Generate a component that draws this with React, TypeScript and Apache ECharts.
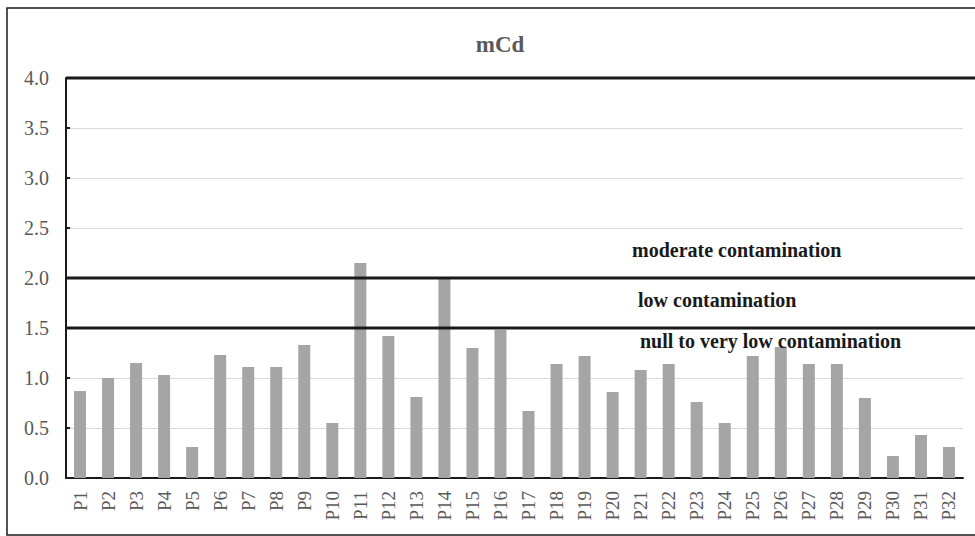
import React, { useEffect, useRef } from "react";
import * as echarts from "echarts";

const categories = [
  "P1", "P2", "P3", "P4", "P5", "P6", "P7", "P8", "P9", "P10",
  "P11", "P12", "P13", "P14", "P15", "P16", "P17", "P18", "P19", "P20",
  "P21", "P22", "P23", "P24", "P25", "P26", "P27", "P28", "P29", "P30",
  "P31", "P32",
];

const mCdValues = [
  0.87, 1.0, 1.15, 1.03, 0.31, 1.23, 1.11, 1.11, 1.33, 0.55,
  2.15, 1.42, 0.81, 2.0, 1.3, 1.48, 0.67, 1.14, 1.22, 0.86,
  1.08, 1.14, 0.76, 0.55, 1.22, 1.31, 1.14, 1.14, 0.8, 0.22,
  0.43, 0.31,
];

// Contamination class boundaries drawn as heavy rules
const thresholds = [4.0, 2.0, 1.5];

// Class names and the value at which each is written
const classLabels = ["moderate contamination", "low contamination", "null to very low contamination"];
const classLabelValues = [2.28, 1.78, 1.37];
const classLabelX = [632, 638, 640];

const SERIF = "'Liberation Serif', 'Times New Roman', serif";

export default function App() {
  const ref = useRef<HTMLDivElement>(null);

  useEffect(() => {
    if (!ref.current) return;
    const chart = echarts.init(ref.current, null, { renderer: "svg" });
    chart.setOption({
      animation: false,
      backgroundColor: "#ffffff",
      title: {
        text: "mCd",
        left: 495,
        textAlign: "center",
        top: 28,
        textStyle: { fontFamily: SERIF, fontSize: 23, fontWeight: "bold", color: "#595959" },
      },
      grid: { left: 66, top: 78, right: 12, bottom: 58 },
      xAxis: {
        type: "category",
        data: categories,
        boundaryGap: true,
        axisLine: { lineStyle: { color: "#1a1a1a", width: 2 } },
        axisTick: { inside: true, length: 4, interval: 0, lineStyle: { color: "#1a1a1a", width: 2 } },
        axisLabel: {
          interval: 0,
          rotate: 90,
          margin: 13,
          fontFamily: SERIF,
          fontSize: 19,
          color: "#595959",
        },
      },
      yAxis: {
        type: "value",
        min: 0,
        max: 4,
        interval: 0.5,
        axisLine: { show: true, lineStyle: { color: "#1a1a1a", width: 2 } },
        axisTick: { show: true, inside: true, length: 4, lineStyle: { color: "#1a1a1a", width: 2 } },
        axisLabel: {
          formatter: (v: number) => v.toFixed(1),
          fontFamily: SERIF,
          fontSize: 20,
          color: "#595959",
          margin: 17,
        },
        splitLine: { lineStyle: { color: "#d9d9d9", width: 1 } },
      },
      series: [
        {
          type: "bar",
          data: mCdValues,
          barWidth: 12,
          itemStyle: { color: "#a5a5a5" },
        },
      ],
    });

    const x0 = chart.convertToPixel({ xAxisIndex: 0 }, 0) - 14;
    const lines = thresholds.map((t) => {
      const y = chart.convertToPixel({ yAxisIndex: 0 }, t);
      return {
        type: "line",
        z: 10,
        shape: { x1: x0, y1: y, x2: 975, y2: y },
        style: { stroke: "#1a1a1a", lineWidth: 3 },
      };
    });
    const texts = classLabels.map((s, i) => ({
      type: "text",
      z: 11,
      x: classLabelX[i],
      y: chart.convertToPixel({ yAxisIndex: 0 }, classLabelValues[i]),
      style: {
        text: s,
        fontFamily: SERIF,
        fontSize: 20,
        fontWeight: "bold",
        fill: "#1a1a1a",
        verticalAlign: "middle",
      },
    }));
    chart.setOption({
      graphic: [
        {
          type: "rect",
          z: 0,
          shape: { x: 7, y: 8, width: 975, height: 527 },
          style: { fill: "none", stroke: "#1a1a1a", lineWidth: 1.5 },
        },
        ...lines,
        ...texts,
      ],
    });
    return () => chart.dispose();
  }, []);

  return (
    <div
      ref={ref}
      style={{ position: "absolute", left: 0, top: 0, width: 975, height: 536 }}
    />
  );
}
